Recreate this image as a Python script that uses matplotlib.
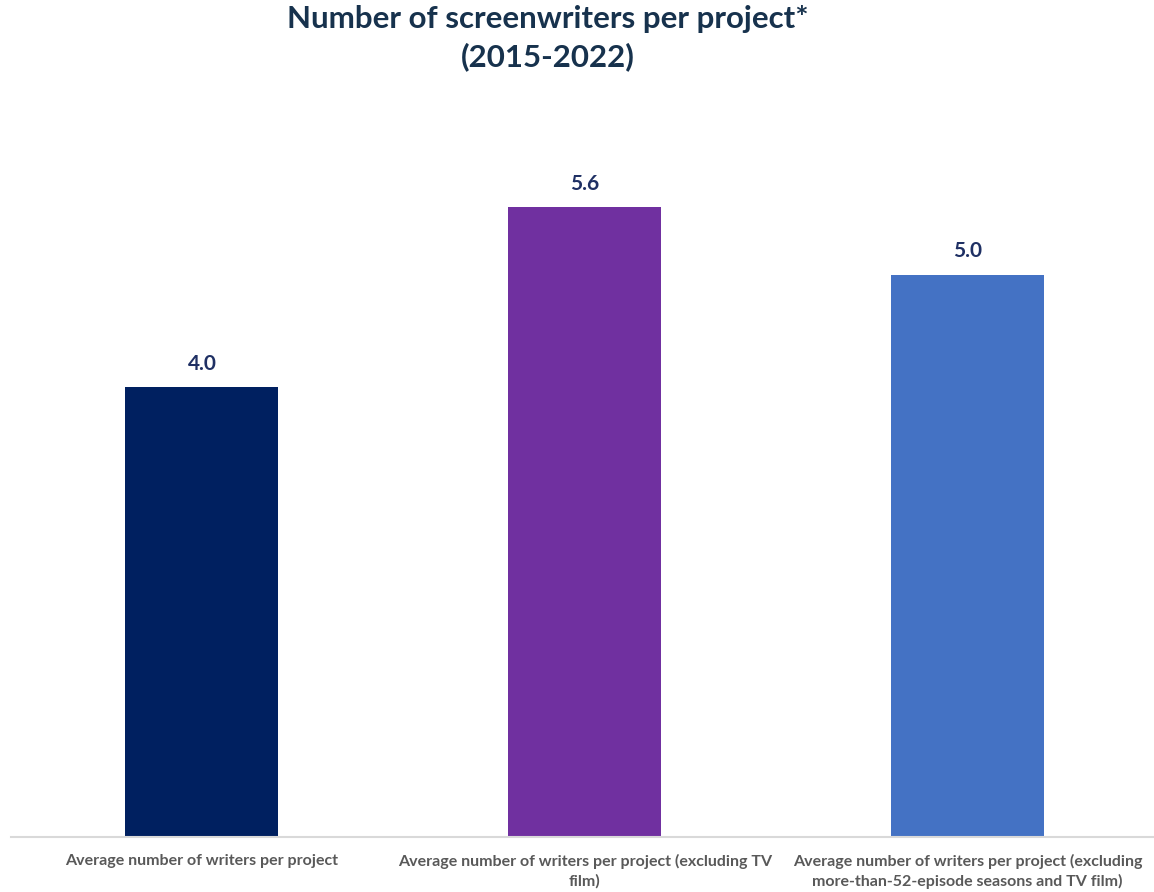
import matplotlib.pyplot as plt

# --- data ---
categories = [
    "Average number of writers per project",
    "Average number of writers per project (excluding TV\nfilm)",
    "Average number of writers per project (excluding\nmore-than-52-episode seasons and TV film)",
]
values = [4.0, 5.6, 5.0]
bar_colors = ["#002060", "#7030A0", "#4472C4"]

plt.rcParams['font.family'] = ['Lato', 'DejaVu Sans']

fig = plt.figure(figsize=(11.54, 8.92), dpi=100)
ax = fig.add_axes([10.5 / 1154, 55 / 892, 1148.5 / 1154, 731.25 / 892])

x = range(len(values))
bars = ax.bar(x, values, width=0.4, color=bar_colors, zorder=2)

for xi, v in zip(x, values):
    ax.text(xi, v + 0.12, f"{v:.1f}", ha='center', va='bottom',
            fontsize=15, fontweight='bold', color='#1F3064')

ax.set_xlim(-0.5, 2.5)
ax.set_ylim(0, 6.5)
ax.set_xticks(list(x))
ax.set_xticklabels(categories, fontsize=11.5, fontweight='bold', color='#595959',
                   linespacing=1.45)
ax.tick_params(axis='x', length=0, pad=12)
ax.set_yticks([])

for s in ['top', 'right', 'left']:
    ax.spines[s].set_visible(False)
ax.spines['bottom'].set_color('#D9D9D9')
ax.spines['bottom'].set_linewidth(1.5)

fig.text(548 / 1154, 1 - 5 / 892, "Number of screenwriters per project*\n(2015-2022)",
         ha='center', va='top', fontsize=22.5, fontweight='bold', color='#17324D',
         linespacing=1.4)

fig.savefig("out.png", dpi=100)
